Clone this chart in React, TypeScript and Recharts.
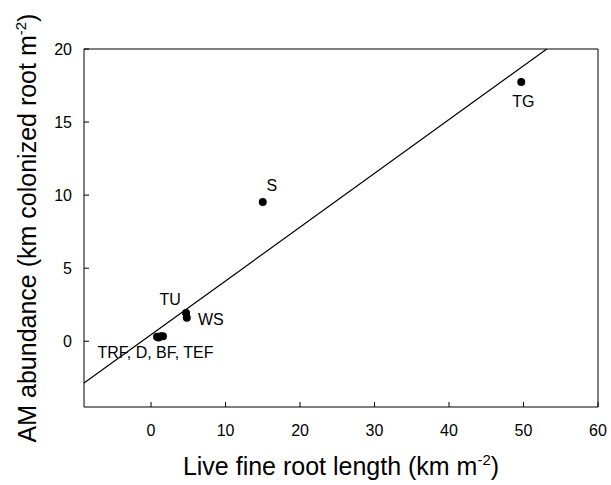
import {
  ScatterChart,
  Scatter,
  XAxis,
  YAxis,
  ReferenceArea,
  ReferenceLine,
} from "recharts";

// site codes and their measured values
const sites = ["TRF", "D", "BF", "TEF", "TU", "WS", "S", "TG"];
const rootLength = [0.8, 1.0, 1.3, 1.6, 4.7, 4.8, 15.0, 49.7]; // km m-2
const amAbundance = [0.3, 0.25, 0.35, 0.35, 1.93, 1.6, 9.53, 17.74]; // km colonized root m-2

// fitted regression line
const LINE_SLOPE = 0.368;
const LINE_INTERCEPT = 0.45;

const xTicks = [0, 10, 20, 30, 40, 50, 60];
const yTicks = [0, 5, 10, 15, 20];
const X_DOMAIN: [number, number] = [-9, 60];
const Y_DOMAIN: [number, number] = [-4.5, 20];

const FONT = "'Liberation Sans', Arial, Helvetica, sans-serif";

// where each site name sits relative to its dot (pixels)
const LABEL_OFFSET: Record<string, { dx: number; dy: number; text?: string }> = {
  TG: { dx: 2, dy: 25 },
  S: { dx: 9, dy: -11 },
  TU: { dx: -16, dy: -8 },
  WS: { dx: 24, dy: 7 },
  D: { dx: -3, dy: 20, text: "TRF, D, BF, TEF" },
};

const data = sites.map((s, i) => ({ site: s, x: rootLength[i], y: amAbundance[i] }));

const lineY = (x: number) => LINE_SLOPE * x + LINE_INTERCEPT;
const lineEndX = (Y_DOMAIN[1] - LINE_INTERCEPT) / LINE_SLOPE;

const Dot = (props: any) => {
  const { cx, cy, payload } = props;
  const lab = LABEL_OFFSET[payload.site];
  return (
    <g>
      <circle cx={cx} cy={cy} r={4} fill="#000" />
      {lab && (
        <text
          x={cx + lab.dx}
          y={cy + lab.dy}
          textAnchor="middle"
          fontSize={16}
          fontFamily={FONT}
          fill="#000"
        >
          {lab.text ?? payload.site}
        </text>
      )}
    </g>
  );
};

const XTick = ({ x, y, payload }: any) => (
  <g>
    <line x1={x} y1={y} x2={x} y2={y - 5} stroke="#000" />
    <text x={x} y={y + 29} textAnchor="middle" fontSize={16} fontFamily={FONT} fill="#000">
      {payload.value}
    </text>
  </g>
);

const YTick = ({ x, y, payload }: any) => (
  <g>
    <line x1={x} y1={y} x2={x + 5} y2={y} stroke="#000" />
    <text x={x - 12} y={y + 6} textAnchor="end" fontSize={16} fontFamily={FONT} fill="#000">
      {payload.value}
    </text>
  </g>
);

const XTitle = ({ viewBox }: any) => (
  <text
    x={viewBox.x + viewBox.width / 2}
    y={viewBox.y + 68}
    textAnchor="middle"
    fontSize={25}
    fontFamily={FONT}
    fill="#000"
  >
    Live fine root length (km m
    <tspan fontSize={15} dy={-10}>-2</tspan>
    <tspan dy={10}>)</tspan>
  </text>
);

const YTitle = ({ viewBox }: any) => {
  const cx = 36;
  const cy = viewBox.y + viewBox.height / 2;
  return (
    <text
      x={cx}
      y={cy}
      transform={`rotate(-90, ${cx}, ${cy})`}
      textAnchor="middle"
      fontSize={25}
      fontFamily={FONT}
      fill="#000"
    >
      AM abundance (km colonized root m
      <tspan fontSize={15} dy={-10}>-2</tspan>
      <tspan dy={10}>)</tspan>
    </text>
  );
};

export default function App() {
  return (
    <div style={{ position: "absolute", left: 0, top: 0, width: 611, height: 485, background: "#fff" }}>
      <ScatterChart width={611} height={485} margin={{ top: 49, right: 13, bottom: 48, left: 54 }}>
        <XAxis
          type="number"
          dataKey="x"
          domain={X_DOMAIN}
          ticks={xTicks}
          allowDataOverflow
          height={30}
          axisLine={false}
          tickLine={false}
          tickSize={0}
          tickMargin={0}
          tick={<XTick />}
          interval={0}
          label={<XTitle />}
        />
        <YAxis
          type="number"
          dataKey="y"
          domain={Y_DOMAIN}
          ticks={yTicks}
          allowDataOverflow
          width={30}
          axisLine={false}
          tickLine={false}
          tickSize={0}
          tickMargin={0}
          tick={<YTick />}
          interval={0}
          label={<YTitle />}
        />
        <ReferenceArea
          x1={X_DOMAIN[0]}
          x2={X_DOMAIN[1]}
          y1={Y_DOMAIN[0]}
          y2={Y_DOMAIN[1]}
          fill="none"
          fillOpacity={0}
          stroke="#000"
          strokeWidth={1}
        />
        <ReferenceLine
          segment={[
            { x: X_DOMAIN[0], y: lineY(X_DOMAIN[0]) },
            { x: lineEndX, y: Y_DOMAIN[1] },
          ]}
          stroke="#000"
          strokeWidth={1.2}
        />
        <Scatter data={data} shape={<Dot />} isAnimationActive={false} />
      </ScatterChart>
    </div>
  );
}
